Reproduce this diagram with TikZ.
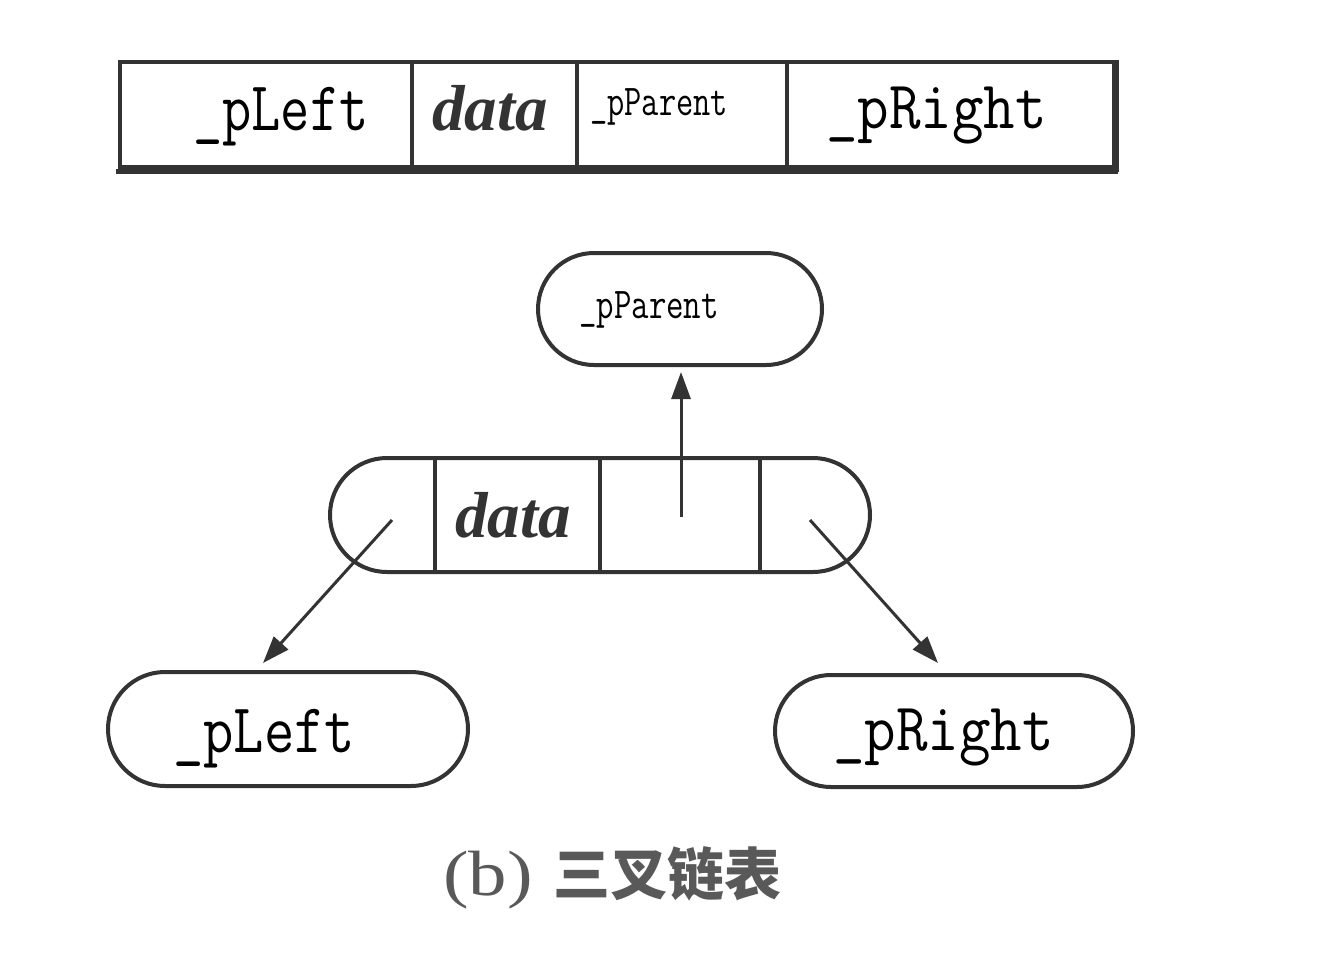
\documentclass[tikz,border=0pt]{standalone}
\usepackage{fontspec}
\setmainfont{Liberation Serif}
\newfontfamily\cjkf{Noto Sans CJK SC}
\usetikzlibrary{shapes.misc,arrows.meta}
\definecolor{lc}{gray}{0.2}
\newcommand\mtxt[3]{\fontsize{#1}{#1}\selectfont\scalebox{#2}[1]{#3}}
\begin{document}
\begin{tikzpicture}[x=1pt,y=-1pt,
  cell/.style={draw=lc,line width=4pt,rectangle,minimum height=105pt,inner sep=0pt,anchor=north west},
  oval/.style={draw=lc,line width=4pt,rounded rectangle,minimum height=112pt,inner sep=0pt},
  arr/.style={draw=lc,line width=3pt,-{Triangle[length=27pt,width=19pt]}},
  mono/.style={font=\ttfamily,inner sep=0pt,anchor=base west,text=black},
  dat/.style={font=\bfseries\itshape\fontsize{65}{65}\selectfont,inner sep=0pt,anchor=base west,text=lc},
]
\useasboundingbox[fill=white] (0,0) rectangle (1337,958);
% top bar
\node[cell,minimum width=292pt] (c1) at (118,60) {};
\node[cell,minimum width=165pt] (c2) at (410,60) {};
\node[cell,minimum width=210pt] (c3) at (575,60) {};
\node[cell,minimum width=327pt] (c4) at (785,60) {};
\draw[lc,line width=5pt] ([xshift=-2pt,yshift=-2pt]c1.south west) -- ([xshift=2pt,yshift=-2pt]c4.south east);
\draw[lc,line width=4pt] ([xshift=1pt]c4.north east) -- ([xshift=1pt,yshift=-3pt]c4.south east);
\node[mono] (t1) at (193,130) {\mtxt{70}{0.81}{\_pLeft}};
\node[dat] (t2) at (432,130) {data};
\node[mono] (t3) at (590,115) {\mtxt{44}{0.76}{\_pParent}};
\node[mono] (t4) at (826,128) {\mtxt{68}{0.9}{\_pRight}};
% parent oval
\node[oval,minimum width=284pt] (par) at (680,309) {};
\node[mono] (tp) at (579,318) {\mtxt{44}{0.77}{\_pParent}};
% middle node
\node[oval,minimum width=540pt,minimum height=114pt] (mid) at (600,515) {};
\draw[lc,line width=4pt] (435,458) coordinate (d1a) -- (435,572) coordinate (d1b);
\draw[lc,line width=4pt] (600,458) coordinate (d2a) -- (600,572) coordinate (d2b);
\draw[lc,line width=4pt] (760,458) coordinate (d3a) -- (760,572) coordinate (d3b);
\node[dat] (tm) at (455,537) {data};
% left and right ovals
\node[oval,minimum width=360pt,minimum height=114pt] (lo) at (288,729) {};
\node[oval,minimum width=358pt,minimum height=112pt] (ro) at (954,731) {};
\node[mono] (tl) at (173,752) {\mtxt{70}{0.84}{\_pLeft}};
\node[mono] (tr) at (833,750) {\mtxt{68}{0.9}{\_pRight}};
% arrows
\coordinate (ps) at (681,517);
\coordinate (pe) at (681,372);
\coordinate (ls) at (392,520);
\coordinate (le) at (263,663);
\coordinate (rs) at (810,520);
\coordinate (re) at (938,663);
\draw[arr] (ps) -- (pe);
\draw[arr] (ls) -- (le);
\draw[arr] (rs) -- (re);
% caption
\node[inner sep=0pt,anchor=base west,text=black!65] (capb) at (443,895)
  {\fontsize{64}{64}\selectfont\scalebox{1.2}[1]{(b)}};
\node[inner sep=0pt,anchor=base west,text=black!65] (capc) at (553,895)
  {\fontsize{57}{57}\selectfont\cjkf\bfseries 三叉链表};
\end{tikzpicture}
\end{document}
